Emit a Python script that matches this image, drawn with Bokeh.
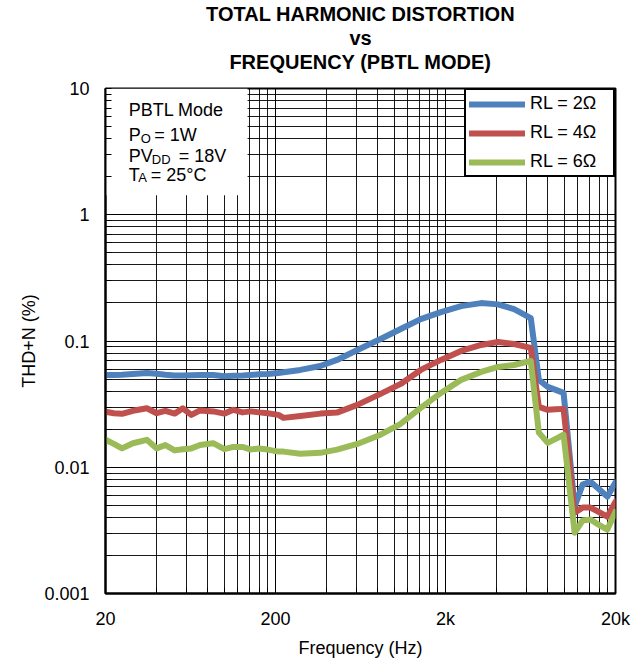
from bokeh.plotting import figure
from bokeh.models import FixedTicker, Legend, LegendItem, BoxAnnotation, Label, Title
from bokeh.embed import file_html
from bokeh.resources import INLINE

# ---------------- data ----------------
freq = [20, 22.4, 25, 29, 35, 40, 45, 51, 57, 64, 72, 86, 100, 113, 128, 143, 160, 180,
        208, 223, 280, 367, 460, 606, 830, 1090, 1430, 1880, 2470, 3240, 4070, 5060,
        6350, 7080, 7990, 8900, 9900, 11500, 12800, 14250, 15900, 17900, 20000]

thd_2ohm = [0.0538, 0.0538, 0.0540, 0.0547, 0.0557, 0.0550, 0.0540, 0.0533, 0.0533, 0.0535,
            0.0538, 0.0538, 0.0525, 0.0530, 0.0532, 0.0538, 0.0545, 0.0548, 0.0557, 0.0565,
            0.0590, 0.0634, 0.0708, 0.0849, 0.1037, 0.1244, 0.149, 0.1695, 0.189, 0.1996,
            0.195, 0.179, 0.152, 0.0492, 0.0433, 0.041, 0.0388, 0.00488, 0.00728, 0.00768,
            0.00676, 0.00585, 0.0076]

thd_4ohm = [0.0275, 0.0268, 0.0265, 0.028, 0.0293, 0.0268, 0.028, 0.0266, 0.0293, 0.026,
            0.0282, 0.0277, 0.0266, 0.0285, 0.0272, 0.0277, 0.0272, 0.0268, 0.026, 0.0246,
            0.0255, 0.0266, 0.0271, 0.0312, 0.0381, 0.0457, 0.059, 0.0708, 0.0834, 0.093,
            0.0982, 0.0946, 0.0881, 0.0301, 0.0285, 0.0288, 0.029, 0.00437, 0.00479, 0.00479,
            0.00444, 0.00406, 0.00533]

thd_6ohm = [0.0165, 0.0153, 0.0141, 0.0155, 0.0165, 0.0141, 0.0150, 0.0136, 0.0139, 0.0141,
            0.0150, 0.0155, 0.0139, 0.0145, 0.0145, 0.0138, 0.0141, 0.0138, 0.0133, 0.0133,
            0.0128, 0.0130, 0.0138, 0.0153, 0.0181, 0.0221, 0.0295, 0.0388, 0.0492, 0.0569,
            0.0623, 0.0646, 0.0695, 0.0188, 0.0156, 0.0168, 0.0181, 0.00303, 0.00378, 0.00386,
            0.00351, 0.00321, 0.00445]

series_labels = ["RL = 2\u03a9", "RL = 4\u03a9", "RL = 6\u03a9"]
series_colors = ["#4F81BD", "#C0504D", "#9BBB59"]

x_major_ticks = [20, 200, 2000, 20000]
x_tick_labels = ["20", "200", "2k", "20k"]
x_minor_ticks = [40, 60, 80, 100, 120, 140, 160, 180,
                 400, 600, 800, 1000, 1200, 1400, 1600, 1800,
                 4000, 6000, 8000, 10000, 12000, 14000, 16000, 18000]
y_major_ticks = [0.001, 0.01, 0.1, 1, 10]
y_tick_labels = ["0.001", "0.01", "0.1", "1", "10"]
y_minor_ticks = [0.002, 0.003, 0.004, 0.005, 0.006, 0.007, 0.008, 0.009,
                 0.02, 0.03, 0.04, 0.05, 0.06, 0.07, 0.08, 0.09,
                 0.2, 0.3, 0.4, 0.5, 0.6, 0.7, 0.8, 0.9,
                 2, 3, 4, 5, 6, 7, 8, 9]

title_lines = ["TOTAL HARMONIC DISTORTION", "vs", "FREQUENCY (PBTL MODE)"]
FONT = "Liberation Sans"

# ---------------- figure ----------------
p = figure(width=644, height=660, x_axis_type="log", y_axis_type="log",
           x_range=(20, 20000), y_range=(0.001, 10),
           output_backend="svg", toolbar_location=None,
           min_border_left=105, min_border_right=29, min_border_top=88, min_border_bottom=66,
           x_axis_label="Frequency (Hz)", y_axis_label="THD+N (%)")
p.background_fill_color = "white"
p.border_fill_color = "white"
p.outline_line_color = "black"
p.outline_line_width = 2
p.outline_line_alpha = 1

xt = FixedTicker(ticks=x_major_ticks, minor_ticks=x_minor_ticks)
yt = FixedTicker(ticks=y_major_ticks, minor_ticks=y_minor_ticks)
p.xaxis.ticker = xt
p.yaxis.ticker = yt
p.xgrid.ticker = xt
p.ygrid.ticker = yt
p.xaxis.major_label_overrides = dict(zip(x_major_ticks, x_tick_labels))
p.yaxis.major_label_overrides = dict(zip(y_major_ticks, y_tick_labels))

for ax in (p.xaxis[0], p.yaxis[0]):
    ax.axis_line_width = 2
    ax.axis_line_color = "black"
    ax.major_tick_out = 0
    ax.major_tick_in = 6
    ax.minor_tick_out = 0
    ax.minor_tick_in = 6
    ax.major_tick_line_color = "black"
    ax.minor_tick_line_color = "black"
    ax.major_label_text_font = FONT
    ax.major_label_text_font_size = "18px"
    ax.major_label_text_color = "black"
    ax.axis_label_text_font = FONT
    ax.axis_label_text_font_size = "18px"
    ax.axis_label_text_font_style = "normal"
    ax.axis_label_text_color = "black"
p.xaxis.major_label_standoff = 15
p.yaxis.major_label_standoff = 16
p.xaxis.axis_label_standoff = 6
p.yaxis.axis_label_standoff = 2

for g in (p.xgrid[0], p.ygrid[0]):
    g.grid_line_color = "black"
    g.grid_line_width = 1
    g.grid_line_alpha = 1
    g.minor_grid_line_color = "black"
    g.minor_grid_line_width = 1
    g.minor_grid_line_alpha = 0.9

# white box behind the conditions text
p.add_layout(BoxAnnotation(left=20, right=137, bottom=1.43, top=10,
                           fill_color="white", fill_alpha=1, line_color=None,
                           level="underlay"))

# ---------------- series ----------------
renderers = []
for vals, col in zip([thd_2ohm, thd_4ohm, thd_6ohm], series_colors):
    r = p.line(freq, vals, line_color=col, line_width=6,
               line_join="round", line_cap="round")
    renderers.append(r)

legend = Legend(items=[LegendItem(label=l, renderers=[r]) for l, r in zip(series_labels, renderers)],
                location="top_right", margin=0, padding=3, spacing=8,
                glyph_width=56, glyph_height=18, label_height=18, label_width=80,
                label_standoff=5,
                border_line_color="black", border_line_width=2, border_line_alpha=1,
                background_fill_color="white", background_fill_alpha=1,
                label_text_font=FONT, label_text_font_size="18px", label_text_color="black")
p.add_layout(legend)

# ---------------- conditions text ----------------
def lab(x, y, text, size="18px", dx=0):
    p.add_layout(Label(x=x, y=y, text=text, x_offset=dx, text_font=FONT,
                       text_font_size=size, text_color="black", text_align="left",
                       text_baseline="alphabetic"))

ax0 = 27.4
lab(ax0, 6.71, "PBTL Mode")
lab(ax0, 4.30, "P")
lab(ax0, 4.01, "O", size="13px", dx=12)
lab(ax0, 4.30, "= 1W", dx=25.5)
lab(ax0, 2.92, "PV")
lab(ax0, 2.75, "DD", size="13px", dx=23)
lab(ax0, 2.92, "= 18V", dx=50)
lab(ax0, 2.07, "T")
lab(ax0, 1.96, "A", size="13px", dx=9.5)
lab(ax0, 2.07, "= 25\u00b0C", dx=22)

# ---------------- title (stacked upward from the plot) ----------------
p.add_layout(Title(text=" ", text_font=FONT, text_font_size="12px", standoff=0), "above")
for txt in reversed(title_lines):
    p.add_layout(Title(text=txt, align="center", text_font=FONT, text_font_size="20px",
                       text_font_style="bold", text_color="black", standoff=0), "above")

open("out.html", "w").write(file_html(p, INLINE))
